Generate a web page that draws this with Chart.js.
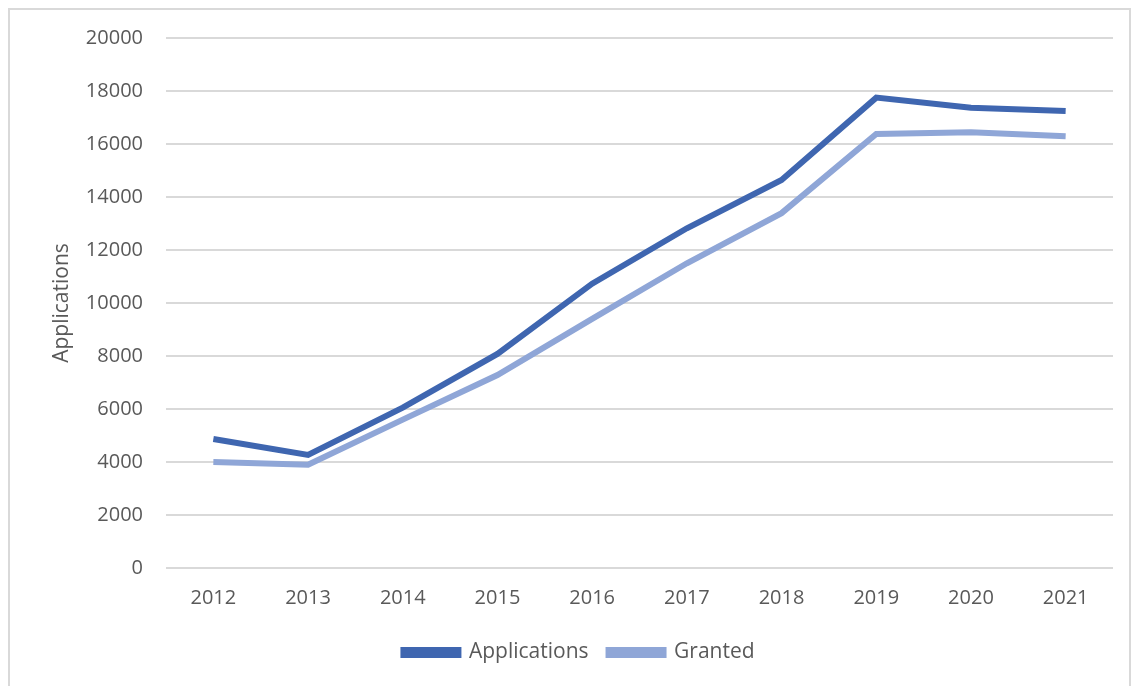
<!DOCTYPE html>
<html>
<head>
<meta charset="utf-8">
<script src="https://cdn.jsdelivr.net/npm/chart.js@4"></script>
<style>
  html, body { margin: 0; padding: 0; background: #fff; }
  #frame {
    position: absolute; left: 8px; top: 8px;
    width: 1123px; height: 700px;
    border: 2px solid #d9d9d9; box-sizing: border-box;
  }
  #wrap { position: absolute; left: 0; top: 0; width: 1135px; height: 686px; }
</style>
</head>
<body>
<div id="frame"></div>
<div id="wrap"><canvas id="chart"></canvas></div>
<script>
// Years on the x axis
const years = ['2012', '2013', '2014', '2015', '2016', '2017', '2018', '2019', '2020', '2021'];

// Values
const applications = [4870, 4270, 6050, 8080, 10730, 12820, 14640, 17750, 17370, 17245];
const granted = [4000, 3900, 5600, 7280, 9400, 11500, 13390, 16380, 16440, 16290];

const yTicks = { min: 0, max: 20000, step: 2000 };

const textColor = '#595959';
const fontFamily = "'Open Sans', 'Liberation Sans', sans-serif";

const ctx = document.getElementById('chart').getContext('2d');
new Chart(ctx, {
    type: 'line',
    data: {
        labels: years,
        datasets: [{
            label: 'Applications',
            data: applications,
            borderColor: '#3f66b0',
            backgroundColor: '#3f66b0',
            borderWidth: 6,
            pointRadius: 0,
            tension: 0,
            fill: false
        }, {
            label: 'Granted',
            data: granted,
            borderColor: '#8fa6d7',
            backgroundColor: '#8fa6d7',
            borderWidth: 6,
            pointRadius: 0,
            tension: 0,
            fill: false
        }]
    },
    options: {
        responsive: true,
        maintainAspectRatio: false,
        animation: false,
        layout: { padding: { left: 45, right: 22, top: 38, bottom: 13 } },
        scales: {
            x: {
                offset: true,
                grid: { display: false },
                border: { display: false },
                ticks: { color: textColor, font: { family: fontFamily, size: 20 }, padding: 10 },
                afterFit: scale => { scale.height = 54; }
            },
            y: {
                min: yTicks.min,
                max: yTicks.max,
                grid: { color: '#d9d9d9', lineWidth: 2, drawTicks: false },
                border: { display: false },
                ticks: {
                    stepSize: yTicks.step,
                    color: textColor,
                    font: { family: fontFamily, size: 20 },
                    padding: 23,
                    callback: v => String(v)
                },
                title: {
                    display: true,
                    text: 'Applications',
                    color: textColor,
                    font: { family: fontFamily, size: 21 },
                    padding: { top: 4, bottom: 0 }
                },
                afterFit: scale => { scale.width = 121; }
            }
        },
        plugins: {
            legend: {
                position: 'bottom',
                labels: {
                    color: textColor,
                    font: { family: fontFamily, size: 21 },
                    boxWidth: 55,
                    boxHeight: 5,
                    padding: 20
                }
            },
            tooltip: { enabled: false }
        }
    }
});
</script>
</body>
</html>
